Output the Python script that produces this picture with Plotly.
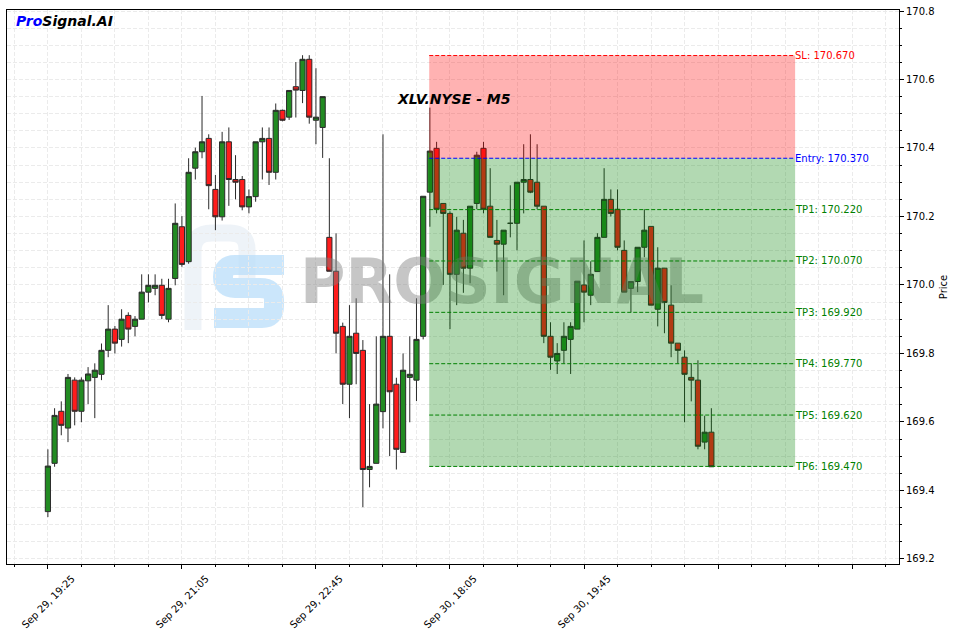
import plotly.graph_objects as go

# ---------------- data ----------------
opens = [169.338, 169.479, 169.631, 169.582, 169.722, 169.631, 169.720, 169.730, 169.739, 169.809,
         169.871, 169.841, 169.911, 169.879, 169.900, 169.979, 169.990, 169.999, 169.900, 170.019,
         170.170, 170.068, 170.341, 170.389, 170.428, 170.279, 170.199, 170.418, 170.308, 170.308,
         170.228, 170.258, 170.418, 170.428, 170.329, 170.510, 170.490, 170.579, 170.568, 170.659,
         170.481, 170.460, 170.139, 170.040, 169.879, 169.710, 169.859, 169.809, 169.461, 169.479,
         169.630, 169.850, 169.710, 169.511, 169.730, 169.722, 169.850, 170.271, 170.399, 170.238,
         170.209, 170.031, 170.151, 170.049, 170.238, 170.399, 170.230, 170.130, 170.119, 170.180,
         170.180, 170.300, 170.308, 170.300, 170.230, 169.850, 169.778, 169.809, 169.841, 169.871,
         170.000, 169.970, 170.039, 170.139, 170.250, 170.221, 170.101, 169.990, 170.010, 170.110,
         170.171, 169.929, 170.049, 169.941, 169.830, 169.789, 169.730, 169.722, 169.541, 169.570]
highs = [169.520, 169.640, 169.660, 169.740, 169.730, 169.730, 169.760, 169.771, 169.829, 169.941,
         169.880, 169.929, 169.920, 169.909, 170.031, 170.031, 170.031, 170.018, 170.018, 170.238,
         170.201, 170.370, 170.401, 170.552, 170.440, 170.321, 170.447, 170.460, 170.379, 170.318,
         170.279, 170.418, 170.460, 170.460, 170.530, 170.512, 170.569, 170.651, 170.671, 170.671,
         170.633, 170.550, 170.370, 170.151, 169.890, 169.941, 169.961, 169.839, 169.652, 169.850,
         170.440, 170.031, 169.729, 169.800, 169.850, 169.961, 170.259, 170.518, 170.418, 170.238,
         170.215, 170.199, 170.190, 170.230, 170.389, 170.418, 170.341, 170.190, 170.160, 170.291,
         170.300, 170.411, 170.440, 170.411, 170.230, 169.891, 169.830, 169.891, 169.891, 170.011,
         170.130, 170.069, 170.151, 170.341, 170.279, 170.279, 170.130, 170.010, 170.110, 170.221,
         170.171, 170.110, 170.049, 169.999, 169.830, 169.809, 169.771, 169.780, 169.618, 169.640]
lows = [169.322, 169.469, 169.561, 169.541, 169.590, 169.599, 169.652, 169.611, 169.722, 169.789,
        169.800, 169.820, 169.830, 169.850, 169.900, 169.949, 169.970, 169.900, 169.891, 169.999,
        170.053, 170.062, 170.308, 170.370, 170.221, 170.160, 170.188, 170.231, 170.250, 170.218,
        170.209, 170.243, 170.308, 170.292, 170.308, 170.478, 170.482, 170.489, 170.531, 170.471,
        170.411, 170.371, 170.040, 169.800, 169.652, 169.611, 169.710, 169.351, 169.409, 169.479,
        169.581, 169.500, 169.461, 169.511, 169.599, 169.661, 169.841, 170.170, 170.209, 170.000,
        169.871, 169.941, 169.977, 170.005, 170.221, 170.209, 170.139, 170.039, 169.970, 170.139,
        170.101, 170.209, 170.268, 170.221, 169.830, 169.752, 169.740, 169.771, 169.740, 169.871,
        169.891, 169.941, 170.039, 170.139, 170.200, 170.101, 169.979, 169.920, 169.979, 170.081,
        169.941, 169.879, 169.859, 169.789, 169.771, 169.599, 169.660, 169.520, 169.520, 169.469]
closes = [169.471, 169.619, 169.590, 169.730, 169.631, 169.722, 169.740, 169.751, 169.809, 169.871,
          169.830, 169.900, 169.871, 169.900, 169.979, 169.999, 169.999, 169.911, 169.990, 170.180,
          170.060, 170.329, 170.389, 170.418, 170.290, 170.199, 170.418, 170.308, 170.300, 170.228,
          170.258, 170.418, 170.428, 170.329, 170.510, 170.481, 170.568, 170.569, 170.659, 170.490,
          170.490, 170.550, 170.040, 169.859, 169.710, 169.850, 169.800, 169.461, 169.470, 169.652,
          169.850, 169.688, 169.520, 169.751, 169.739, 169.841, 170.259, 170.391, 170.221, 170.209,
          170.031, 170.160, 170.049, 170.230, 170.379, 170.221, 170.139, 170.119, 170.160, 170.180,
          170.300, 170.308, 170.271, 170.230, 169.850, 169.789, 169.800, 169.850, 169.879, 170.011,
          169.979, 170.031, 170.139, 170.250, 170.209, 170.110, 169.979, 170.010, 170.110, 170.160,
          169.941, 170.049, 169.949, 169.830, 169.809, 169.739, 169.722, 169.529, 169.570, 169.469]

tick_labels = ["Sep 29, 19:25", "Sep 29, 21:05", "Sep 29, 22:45", "Sep 30, 18:05", "Sep 30, 19:45", "", ""]
tick_step = 20

chart_title = "XLV.NYSE - M5"
sl_level = 170.670
entry_level = 170.370
tp_levels = [170.220, 170.070, 169.920, 169.770, 169.620, 169.470]
zone_start = 56.9
zone_end = 111.5

x_range = [-6.1, 127.0]
y_range = [169.185, 170.803]

# ---------------- figure ----------------
W, H = 956, 634
ML, MR, MT, MB = 7, 57, 10, 70
PW, PH = W - ML - MR, H - MT - MB


def px(xp, yp):
    """pixel -> paper coordinates (for decorative watermark only)"""
    return (xp - ML) / PW, (H - MB - yp) / PH


def paper_to_data(fx, fy):
    return (x_range[0] + fx * (x_range[1] - x_range[0]),
            y_range[0] + fy * (y_range[1] - y_range[0]))


FONT = "DejaVu Sans"
idx = list(range(len(opens)))

fig = go.Figure()

# watermark text (drawn beneath the candles)
wfx, wfy = px(502, 287)
wdx, wdy = paper_to_data(wfx, wfy)
fig.add_trace(go.Scatter(
    x=[wdx], y=[wdy], mode="text", text=["<b>PROSIGNAL</b>"], textposition="middle center",
    textfont=dict(family="DejaVu Sans", size=62, weight="bold", color="rgba(128,128,128,0.45)"),
    hoverinfo="skip", showlegend=False,
))

fig.add_trace(go.Candlestick(
    x=idx, open=opens, high=highs, low=lows, close=closes,
    increasing=dict(fillcolor="#228b22", line=dict(color="#2a2a2a", width=1)),
    decreasing=dict(fillcolor="#ff1c1c", line=dict(color="#2a2a2a", width=1)),
    whiskerwidth=0, showlegend=False,
))

shapes = []
# zones
shapes.append(dict(type="rect", xref="x", yref="y", x0=zone_start, x1=zone_end,
                   y0=entry_level, y1=sl_level, fillcolor="rgba(255,0,0,0.3)",
                   line=dict(width=0), layer="above"))
shapes.append(dict(type="rect", xref="x", yref="y", x0=zone_start, x1=zone_end,
                   y0=tp_levels[-1], y1=entry_level, fillcolor="rgba(0,128,0,0.3)",
                   line=dict(width=0), layer="above"))

annotations = []
levels = [("SL", sl_level, "red"), ("Entry", entry_level, "blue")] + \
         [(f"TP{i + 1}", v, "green") for i, v in enumerate(tp_levels)]
for name, val, col in levels:
    shapes.append(dict(type="line", xref="x", yref="y", x0=zone_start, x1=zone_end,
                       y0=val, y1=val, line=dict(color=col, width=1, dash="4px,2px"),
                       layer="above"))
    annotations.append(dict(xref="x", yref="y", x=zone_end, y=val, text=f"{name}: {val:.3f}",
                            showarrow=False, xanchor="left", yanchor="middle", xshift=-2,
                            font=dict(family=FONT, size=10, color=col)))


# watermark icon (decorative)
def path_from(points):
    parts = []
    for cmd, xp, yp in points:
        a, b = px(xp, yp)
        parts.append(f"{cmd}{a:.5f},{b:.5f}")
    return " ".join(parts)


arch = [("M", 193, 330), ("L", 193, 252), ("Q", 193, 233), ("", 212, 233), ("L", 230, 233),
        ("Q", 247, 233), ("", 247, 250), ("L", 247, 278)]
shapes.append(dict(type="path", xref="paper", yref="paper", path=path_from(arch),
                   line=dict(color="rgba(205,220,235,0.35)", width=17), layer="below"))
s_shape = [("M", 284, 265), ("L", 235, 265), ("Q", 223, 265), ("", 223, 277), ("Q", 223, 288),
           ("", 235, 288), ("L", 260, 288), ("Q", 274, 288), ("", 274, 300), ("L", 274, 306),
           ("Q", 274, 318), ("", 262, 318), ("L", 214, 318)]
shapes.append(dict(type="path", xref="paper", yref="paper", path=path_from(s_shape),
                   line=dict(color="rgba(185,222,250,0.75)", width=20), layer="below"))

# title & logo
tx, ty = px(453.5, 99.5)
annotations.append(dict(xref="paper", yref="paper", x=tx, y=ty, text=f"<b><i>{chart_title}</i></b>",
                        showarrow=False, xanchor="center", yanchor="middle",
                        font=dict(family=FONT, size=14, color="black")))
lx, ly = px(14, 21)
annotations.append(dict(xref="paper", yref="paper", x=lx, y=ly,
                        text="<b><i><span style='color:blue'>Pro</span>Signal.AI</i></b>",
                        showarrow=False, xanchor="left", yanchor="middle",
                        font=dict(family=FONT, size=14, color="black")))

tickvals = [i * tick_step for i in range(len(tick_labels))]
grid_col = "#ebebeb"

fig.update_layout(
    width=W, height=H, margin=dict(l=ML, r=MR, t=MT, b=MB, autoexpand=False),
    paper_bgcolor="white", plot_bgcolor="white",
    font=dict(family=FONT, size=10, color="black"),
    boxgap=0.12, boxgroupgap=0.12,
    shapes=shapes, annotations=annotations, showlegend=False,
    xaxis=dict(
        range=x_range, rangeslider=dict(visible=False), automargin=False,
        tickmode="array", tickvals=tickvals, ticktext=tick_labels,
        tickangle=-45, ticklabelshift=24, ticks="outside", ticklen=4, tickcolor="black",
        tickfont=dict(family=FONT, size=10, color="black"),
        showline=True, mirror=True, linecolor="black", linewidth=1,
        showgrid=True, gridcolor=grid_col, griddash="4px,2px", zeroline=False,
        minor=dict(tickmode="linear", tick0=0, dtick=5, ticks="outside", ticklen=2,
                   tickcolor="black", showgrid=True, gridcolor=grid_col, griddash="4px,2px"),
    ),
    yaxis=dict(
        range=y_range, side="right", tick0=169.2, dtick=0.2, tickformat=".1f", automargin=False,
        ticks="outside", ticklen=4, tickcolor="black",
        tickfont=dict(family=FONT, size=10, color="black"),
        showline=True, mirror=True, linecolor="black", linewidth=1,
        showgrid=True, gridcolor=grid_col, griddash="4px,2px", zeroline=False,
        title=dict(text="Price", standoff=6, font=dict(family=FONT, size=10, color="black")),
        minor=dict(tickmode="linear", tick0=169.2, dtick=0.05, ticks="outside", ticklen=2,
                   tickcolor="black", showgrid=True, gridcolor=grid_col, griddash="4px,2px"),
    ),
)

fig.write_html("out.html", config={"displayModeBar": False},
               post_script="document.body.style.margin='0px';document.body.style.overflow='hidden';")
